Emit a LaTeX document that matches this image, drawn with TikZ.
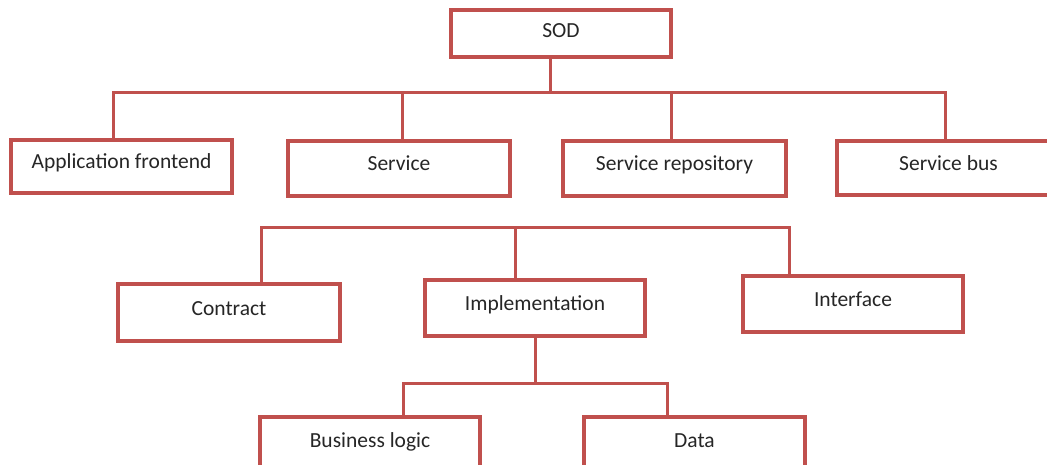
\documentclass[tikz,border=0pt]{standalone}
\usepackage{fontspec}
\setmainfont{Carlito}
\definecolor{boxred}{HTML}{C0504D}
\definecolor{ink}{HTML}{262626}
\begin{document}
\begin{tikzpicture}[x=1pt,y=-1pt,
  box/.style={draw=boxred, line width=3.3pt, fill=white, rectangle,
    inner sep=0pt, text height=14pt, text depth=9pt,
    font=\fontsize{21.5pt}{24pt}\selectfont, text=ink},
  link/.style={draw=boxred, line width=3pt}]
\useasboundingbox (0,0) rectangle (1047,465);
\clip (0,0) rectangle (1047,465);

% connector bars
\coordinate (top) at (550,93);
\coordinate (mid) at (515,228);
\coordinate (low) at (535,383);

% root
\node[box, minimum width=220pt, minimum height=47pt, text depth=6pt] (sod) at (561,33.5) {SOD};

% first level
\node[box, minimum width=221pt, minimum height=53pt] (app)  at (121.5,166.5) {Application frontend};
\node[box, minimum width=222pt, minimum height=55pt] (svc)  at (399,168.5)   {Service};
\node[box, minimum width=223pt, minimum height=55pt] (repo) at (674.5,168.5) {Service repository};
\node[box, minimum width=223pt, minimum height=54pt] (bus)  at (948.5,168)   {Service bus};

% service parts
\node[box, minimum width=222pt, minimum height=57pt] (contract) at (229,312.5) {Contract};
\node[box, minimum width=220pt, minimum height=56pt] (impl)     at (535,308)   {Implementation};
\node[box, minimum width=220pt, minimum height=56pt] (iface)    at (853,304)   {Interface};

% implementation parts
\node[box, minimum width=220pt, minimum height=56pt] (logic) at (370,445) {Business logic};
\node[box, minimum width=221pt, minimum height=56pt] (data)  at (694.5,445) {Data};

% tree links
\path[link] ([xshift=-11pt]sod.south) -- (top);
\path[link] ([xshift=-8.5pt]app.north) |- (top);
\path[link] ([xshift=3pt]svc.north) |- (top);
\path[link] ([xshift=-3.5pt]repo.north) |- (top);
\path[link] ([xshift=-3.5pt]bus.north) |- (top);

\path[link] ([xshift=32pt]contract.north) |- (mid);
\path[link] ([xshift=-20pt]impl.north) -- (mid);
\path[link] ([xshift=-64pt]iface.north) |- (mid);

\path[link] (impl.south) -- (low);
\path[link] ([xshift=33pt]logic.north) |- (low);
\path[link] ([xshift=-27.5pt]data.north) |- (low);
\end{tikzpicture}
\end{document}
